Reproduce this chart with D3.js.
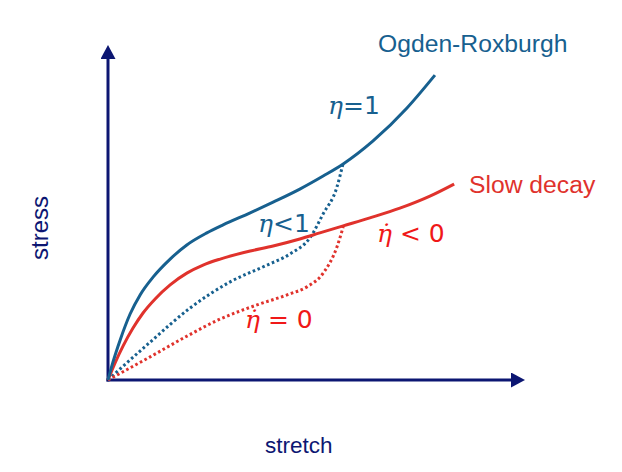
<!DOCTYPE html>
<html>
<head>
<meta charset="utf-8">
<script src="https://cdn.jsdelivr.net/npm/d3@7"></script>
<style>
  html, body { margin: 0; padding: 0; background: #fff; }
  svg { display: block; }
</style>
</head>
<body>
<svg id="chart" width="622" height="472"></svg>
<script>
// ---- data (schematic; units arbitrary 0..10) ----
const ogdenX   = [0, 0.12, 0.29, 0.53, 0.77, 1.08, 1.49, 1.89, 2.37, 2.76, 3.41, 3.96, 4.60, 5.16, 5.64, 6.35, 7.17, 7.84];
const ogdenY   = [0, 0.54, 1.19, 1.97, 2.54, 3.07, 3.61, 4.03, 4.39, 4.63, 4.99, 5.31, 5.70, 6.09, 6.45, 7.13, 8.12, 9.10];
const slowX    = [0, 0.17, 0.36, 0.60, 0.84, 1.13, 1.49, 1.89, 2.28, 2.69, 3.41, 3.96, 4.60, 5.08, 5.64, 6.28, 7.00, 7.72, 8.30];
const slowY    = [0, 0.51, 1.01, 1.55, 2.00, 2.42, 2.84, 3.19, 3.43, 3.61, 3.85, 4.00, 4.21, 4.39, 4.60, 4.84, 5.13, 5.49, 5.85];
const etaLt1X  = [0, 1.01, 1.97, 2.93, 3.76, 4.36, 4.84, 5.16, 5.49, 5.64];
const etaLt1Y  = [0, 1.13, 2.15, 2.93, 3.40, 3.76, 4.24, 4.96, 5.76, 6.48];
const etaDot0X = [0, 1.01, 1.85, 2.69, 3.57, 4.36, 4.77, 5.16, 5.49, 5.64];
const etaDot0Y = [0, 0.69, 1.28, 1.82, 2.24, 2.57, 2.78, 3.19, 3.97, 4.57];
const axisLabels = ["stretch", "stress"];
const curveLabels = ["Ogden-Roxburgh", "Slow decay"];

const BLUE = "#17608f", RED = "#e0322c", NAVY = "#0c1672", TXTRED = "#f01818";

const svg = d3.select("#chart");
const x = d3.scaleLinear().domain([0, 10]).range([108, 525]);
const y = d3.scaleLinear().domain([0, 10]).range([380, 45]);

// arrow markers
const defs = svg.append("defs");
defs.append("marker").attr("id", "arr")
  .attr("viewBox", "0 0 14 15").attr("refX", 0).attr("refY", 7.5)
  .attr("markerWidth", 14).attr("markerHeight", 15)
  .attr("markerUnits", "userSpaceOnUse").attr("orient", "auto")
  .append("path").attr("d", "M0,0 L14,7.5 L0,15 Z").attr("fill", NAVY);

// axes via d3 axis (no ticks), then arrow lines
const xAxis = svg.append("g").attr("transform", `translate(0,${y(0)})`)
  .call(d3.axisBottom(x).tickValues([]).tickSizeOuter(0));
const yAxis = svg.append("g").attr("transform", `translate(${x(0)},0)`)
  .call(d3.axisLeft(y).tickValues([]).tickSizeOuter(0));
[xAxis, yAxis].forEach(g => g.select(".domain").attr("stroke", "none"));

svg.append("line")
  .attr("x1", x(0) - 1.5).attr("y1", y(0)).attr("x2", x(10) - 14).attr("y2", y(0))
  .attr("stroke", NAVY).attr("stroke-width", 3).attr("marker-end", "url(#arr)");
svg.append("line")
  .attr("x1", x(0)).attr("y1", y(0) + 1.5).attr("x2", x(0)).attr("y2", y(10) + 14)
  .attr("stroke", NAVY).attr("stroke-width", 3).attr("marker-end", "url(#arr)");

const line = d3.line().x(d => x(d[0])).y(d => y(d[1])).curve(d3.curveMonotoneX);
const zip = (a, b) => a.map((v, i) => [v, b[i]]);

function drawCurve(xs, ys, color, dotted) {
  svg.append("path").datum(zip(xs, ys))
    .attr("d", line).attr("fill", "none")
    .attr("stroke", color).attr("stroke-width", 3)
    .attr("stroke-dasharray", dotted ? "2.6,2.6" : null)
    .attr("stroke-linecap", "butt");
}
drawCurve(etaLt1X, etaLt1Y, BLUE, true);
drawCurve(etaDot0X, etaDot0Y, RED, true);
drawCurve(slowX, slowY, RED, false);
drawCurve(ogdenX, ogdenY, BLUE, false);

// labels
const sans = "'Liberation Sans', Arial, sans-serif";
svg.append("text").attr("x", 378).attr("y", 52).attr("font-family", sans)
  .attr("font-size", 24.7).attr("fill", BLUE).text(curveLabels[0]);
svg.append("text").attr("x", 469).attr("y", 193).attr("font-family", sans)
  .attr("font-size", 24.7).attr("fill", RED).text(curveLabels[1]);

svg.append("text").attr("x", 265).attr("y", 453).attr("font-family", sans)
  .attr("font-size", 22.5).attr("fill", NAVY).text(axisLabels[0]);
svg.append("text").attr("transform", "translate(48,260) rotate(-90)")
  .attr("font-family", sans).attr("font-size", 24).attr("fill", NAVY).text(axisLabels[1]);

function mathLabel(px, py, color, dot, rest) {
  const t = svg.append("text").attr("x", px).attr("y", py).attr("fill", color)
    .attr("font-size", 25);
  t.append("tspan").attr("font-family", "'DejaVu Serif', serif").attr("font-style", "italic")
    .text(dot ? "\u03B7\u0307" : "\u03B7");
  t.append("tspan").attr("font-family", "'DejaVu Sans', sans-serif").text(rest);
}
mathLabel(328, 114, BLUE, false, "=1");
mathLabel(258, 232, BLUE, false, "<1");
mathLabel(377, 242, TXTRED, true, " < 0");
mathLabel(245, 328, TXTRED, true, " = 0");
</script>
</body>
</html>
